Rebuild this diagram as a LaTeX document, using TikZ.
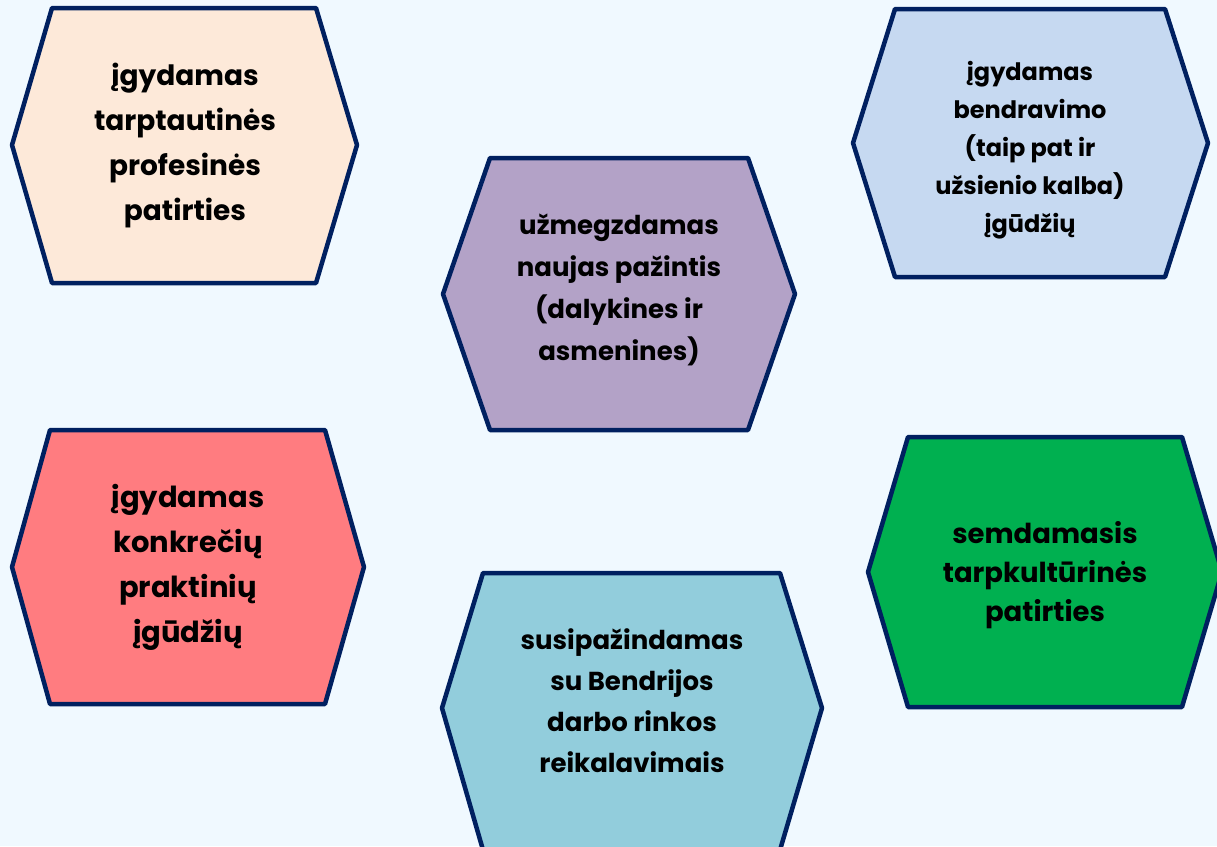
\documentclass[tikz,border=0pt]{standalone}
\usepackage{fontspec}
\setmainfont{Poppins}
\definecolor{bgblue}{HTML}{F0F9FF}
\definecolor{edgeblue}{HTML}{002060}
\definecolor{peach}{HTML}{FDE9D9}
\definecolor{lilac}{HTML}{B3A2C7}
\definecolor{paleblue}{HTML}{C6D9F1}
\definecolor{salmon}{HTML}{FF7C80}
\definecolor{teal}{HTML}{92CDDC}
\definecolor{grass}{HTML}{00B050}
\tikzset{
  hexline/.style={draw=edgeblue,line width=4.5pt,line join=round},
  hextext/.style={align=center,font=\bfseries\fontsize{28}{45}\selectfont},
}
\begin{document}
\begin{tikzpicture}[x=1pt,y=-1pt]
  % background
  \useasboundingbox (0,0) rectangle (1217,846);
  \clip (0,0) rectangle (1217,846);
  \fill[bgblue] (0,0) rectangle (1217,846);

  % upper left
  \filldraw[hexline,fill=peach] (12,145) -- (52,8) -- (316,8) -- (357,145) -- (316,283) -- (52,283) -- cycle;
  \node[hextext] (profesine) at (185,146) {įgydamas\\tarptautinės\\profesinės\\patirties};

  % middle
  \filldraw[hexline,fill=lilac] (443,294) -- (490,158) -- (748,158) -- (795,294) -- (748,430) -- (490,430) -- cycle;
  \node[hextext,font=\bfseries\fontsize{26}{42}\selectfont] (pazintys) at (619,290) {užmegzdamas\\naujas pažintis\\(dalykines ir\\asmenines)};

  % upper right
  \filldraw[hexline,fill=paleblue] (853,143) -- (895,9) -- (1165,9) -- (1208,143) -- (1165,277) -- (895,277) -- cycle;
  \node[hextext,font=\bfseries\fontsize{24}{38}\selectfont] (bendravimas) at (1030,150) {įgydamas\\bendravimo\\(taip pat ir\\užsienio kalba)\\įgūdžių};

  % lower left
  \filldraw[hexline,fill=salmon] (12,567) -- (50,430) -- (325,430) -- (364,567) -- (325,704) -- (50,704) -- cycle;
  \node[hextext,font=\bfseries\fontsize{29}{45}\selectfont] (praktika) at (188,567) {įgydamas\\konkrečių\\praktinių\\įgūdžių};

  % bottom middle
  \filldraw[hexline,fill=teal] (442,708) -- (483,573) -- (780,573) -- (822,708) -- (780,850) -- (483,850) -- cycle;
  \node[hextext,font=\bfseries\fontsize{26}{41}\selectfont] (rinka) at (632,701) {susipažindamas\\su Bendrijos\\darbo rinkos\\reikalavimais};

  % right
  \filldraw[hexline,fill=grass] (868,572) -- (908,437) -- (1182,437) -- (1222,572) -- (1182,707) -- (908,707) -- cycle;
  \node[hextext,font=\bfseries\fontsize{27.5}{39}\selectfont] (kultura) at (1045,575) {semdamasis\\tarpkultūrinės\\patirties};
\end{tikzpicture}
\end{document}
